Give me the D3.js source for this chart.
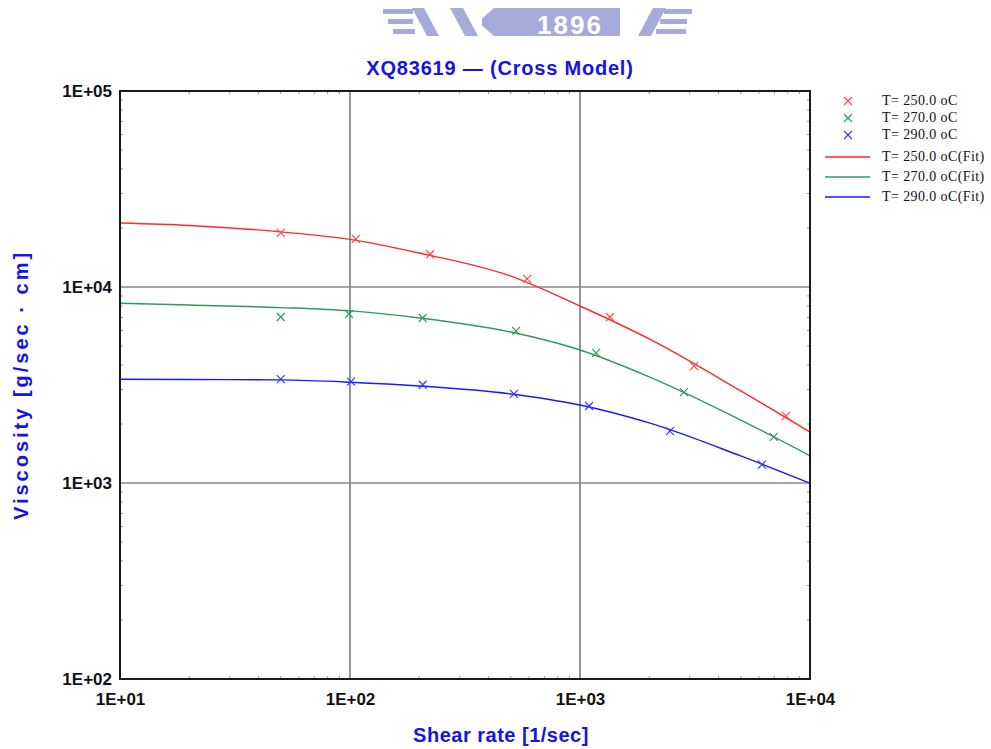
<!DOCTYPE html>
<html>
<head>
<meta charset="utf-8">
<script src="https://cdn.jsdelivr.net/npm/d3@7/dist/d3.min.js"></script>
<style>
  html, body { margin: 0; padding: 0; background: #fff; }
  svg { display: block; }
</style>
</head>
<body>
<svg id="chart" width="991" height="749"></svg>
<script>
// ---- data ----
const seriesNames = ["T= 250.0 oC", "T= 270.0 oC", "T= 290.0 oC"];
const fitNames = ["T= 250.0 oC(Fit)", "T= 270.0 oC(Fit)", "T= 290.0 oC(Fit)"];

const rate250 = [50, 106, 223, 589, 1350, 3130, 7870];
const visc250 = [18900, 17600, 14700, 11000, 7030, 3950, 2200];
const rate270 = [50, 99, 207, 527, 1175, 2830, 6960];
const visc270 = [7030, 7280, 6950, 5970, 4610, 2910, 1720];
const rate290 = [50, 101, 207, 516, 1095, 2460, 6180];
const visc290 = [3390, 3290, 3170, 2850, 2470, 1840, 1240];

const fitRate = [10, 20, 50, 100, 200, 500, 1000, 2000, 5000, 10000];
const fit250 = [21200, 20600, 19100, 17500, 14900, 11370, 8000, 5430, 2950, 1820];
const fit270 = [8260, 8090, 7850, 7550, 6950, 5890, 4770, 3480, 2096, 1377];
const fit290 = [3382, 3373, 3357, 3268, 3127, 2847, 2500, 2025, 1374, 998];

const xTickValues = [10, 100, 1000, 10000];
const xTickLabels = ["1E+01", "1E+02", "1E+03", "1E+04"];
const yTickValues = [100, 1000, 10000, 100000];
const yTickLabels = ["1E+02", "1E+03", "1E+04", "1E+05"];

const titleText = "XQ83619 \u2014 (Cross Model)";
const xLabel = "Shear rate [1/sec]";
const yLabel = "Viscosity [g/sec \u00b7 cm]";

const markerColors = ["#ff4a4a", "#2f9a5e", "#3a3aff"];
const lineColors = ["#ff2a2a", "#2e9a5c", "#1a1aff"];

// ---- layout ----
const svg = d3.select("#chart");
const L = 120, R = 810, T = 91, B = 679;

const x = d3.scaleLog().domain([10, 10000]).range([L, R]);
const y = d3.scaleLog().domain([100, 100000]).range([B, T]);

// ---- watermark ----
const wm = svg.append("g").attr("fill", "#a7abd9");
wm.append("rect").attr("x", 482).attr("y", 8).attr("width", 138).attr("height", 28);
wm.append("polygon").attr("points", "480,8 494,8 478,22 494,36 480,36 466,22").attr("fill", "#fff");
wm.append("polygon").attr("points", "450,8 463,8 478,36 465,36");
wm.append("polygon").attr("points", "412,8 424,8 439,36 427,36");
[[383, 9, 30], [388, 19, 25], [393, 29, 22]].forEach(b =>
  wm.append("rect").attr("x", b[0]).attr("y", b[1]).attr("width", b[2]).attr("height", 5));
wm.append("polygon").attr("points", "638,36 651,36 666,8 653,8");
[[664, 9, 28], [660, 19, 27], [656, 29, 30]].forEach(b =>
  wm.append("rect").attr("x", b[0]).attr("y", b[1]).attr("width", b[2]).attr("height", 5));
svg.append("text").attr("x", 570).attr("y", 34).attr("text-anchor", "middle")
  .attr("font-family", "Liberation Sans, Arial, sans-serif").attr("font-weight", "bold")
  .attr("font-size", 26).attr("fill", "#fff").attr("letter-spacing", 2).text("1896");

// ---- title ----
svg.append("text").attr("x", 500).attr("y", 75).attr("text-anchor", "middle")
  .attr("font-family", "Liberation Sans, Arial, sans-serif").attr("font-weight", "bold")
  .attr("font-size", 20).attr("letter-spacing", 0.8).attr("fill", "#1414e6").text(titleText);

// ---- grid ----
const grid = svg.append("g");
xTickValues.slice(1, -1).forEach(v => grid.append("line")
  .attr("x1", x(v)).attr("x2", x(v)).attr("y1", T).attr("y2", B)
  .attr("stroke", "#7a7a7a").attr("stroke-width", 1.6));
yTickValues.slice(1, -1).forEach(v => grid.append("line")
  .attr("x1", L).attr("x2", R).attr("y1", y(v)).attr("y2", y(v))
  .attr("stroke", "#8a8a8a").attr("stroke-width", 1.6));

// ---- minor ticks (inside, all four sides) ----
const minorX = x.ticks().filter(v => !xTickValues.includes(v));
const minorY = y.ticks().filter(v => !yTickValues.includes(v));
const mt = svg.append("g").attr("stroke", "#999").attr("stroke-width", 1);
minorX.forEach(v => {
  mt.append("line").attr("x1", x(v)).attr("x2", x(v)).attr("y1", B).attr("y2", B - 3);
  mt.append("line").attr("x1", x(v)).attr("x2", x(v)).attr("y1", T).attr("y2", T + 3);
});
minorY.forEach(v => {
  mt.append("line").attr("x1", L).attr("x2", L + 3).attr("y1", y(v)).attr("y2", y(v));
  mt.append("line").attr("x1", R).attr("x2", R - 3).attr("y1", y(v)).attr("y2", y(v));
});

// ---- fit curves ----
const line = d3.line().x(d => x(d[0])).y(d => y(d[1])).curve(d3.curveMonotoneX);
[fit250, fit270, fit290].forEach((f, i) => {
  svg.append("path").datum(fitRate.map((r, k) => [r, f[k]]))
    .attr("d", line).attr("fill", "none").attr("stroke", lineColors[i]).attr("stroke-width", 1.4);
});

// ---- data markers ----
const s = 4;
function cross(g, cx, cy, col) {
  g.append("path").attr("d", `M${cx - s},${cy - s}L${cx + s},${cy + s}M${cx - s},${cy + s}L${cx + s},${cy - s}`)
    .attr("stroke", col).attr("stroke-width", 1.2).attr("fill", "none");
}
const mk = svg.append("g");
[[rate250, visc250], [rate270, visc270], [rate290, visc290]].forEach((sr, i) => {
  sr[0].forEach((r, k) => cross(mk, x(r), y(sr[1][k]), markerColors[i]));
});

// ---- frame ----
svg.append("rect").attr("x", L).attr("y", T).attr("width", R - L).attr("height", B - T)
  .attr("fill", "none").attr("stroke", "#1a1a1a").attr("stroke-width", 2);

// ---- axes labels via d3 axes ----
const tickFont = "Liberation Sans Narrow, Liberation Sans, Arial, sans-serif";
const xAxis = d3.axisBottom(x).tickValues(xTickValues)
  .tickFormat((d, i) => xTickLabels[i]).tickSize(0).tickPadding(14);
const gx = svg.append("g").attr("transform", `translate(0,${B})`).call(xAxis);
gx.select(".domain").remove();
gx.selectAll("text").attr("font-family", tickFont).attr("font-weight", "bold")
  .attr("font-size", 17).attr("fill", "#111");

const yAxis = d3.axisLeft(y).tickValues(yTickValues)
  .tickFormat((d, i) => yTickLabels[i]).tickSize(0).tickPadding(8);
const gy = svg.append("g").attr("transform", `translate(${L},0)`).call(yAxis);
gy.select(".domain").remove();
gy.selectAll("text").attr("font-family", tickFont).attr("font-weight", "bold")
  .attr("font-size", 17).attr("fill", "#111");

// ---- axis titles ----
svg.append("text").attr("x", 501).attr("y", 742).attr("text-anchor", "middle")
  .attr("font-family", tickFont).attr("font-weight", "bold")
  .attr("font-size", 20).attr("letter-spacing", 0.5).attr("fill", "#1414e6").text(xLabel);
svg.append("text").attr("transform", "translate(28,385) rotate(-90)").attr("text-anchor", "middle")
  .attr("font-family", "Liberation Sans, Arial, sans-serif").attr("font-weight", "bold")
  .attr("font-size", 20).attr("letter-spacing", 3).attr("fill", "#1414e6").text(yLabel);

// ---- legend ----
const lg = svg.append("g").attr("font-family", "Liberation Serif, Times New Roman, serif")
  .attr("font-size", 14).attr("letter-spacing", 0.4).attr("fill", "#111");
const rowY = [101, 118, 135, 157, 177, 197];
seriesNames.forEach((n, i) => {
  cross(lg, 848, rowY[i], markerColors[i]);
  lg.append("text").attr("x", 882).attr("y", rowY[i] + 4).text(n);
});
fitNames.forEach((n, i) => {
  lg.append("line").attr("x1", 825).attr("x2", 870).attr("y1", rowY[i + 3]).attr("y2", rowY[i + 3])
    .attr("stroke", lineColors[i]).attr("stroke-width", 1.4);
  lg.append("text").attr("x", 882).attr("y", rowY[i + 3] + 4).text(n);
});
</script>
</body>
</html>
